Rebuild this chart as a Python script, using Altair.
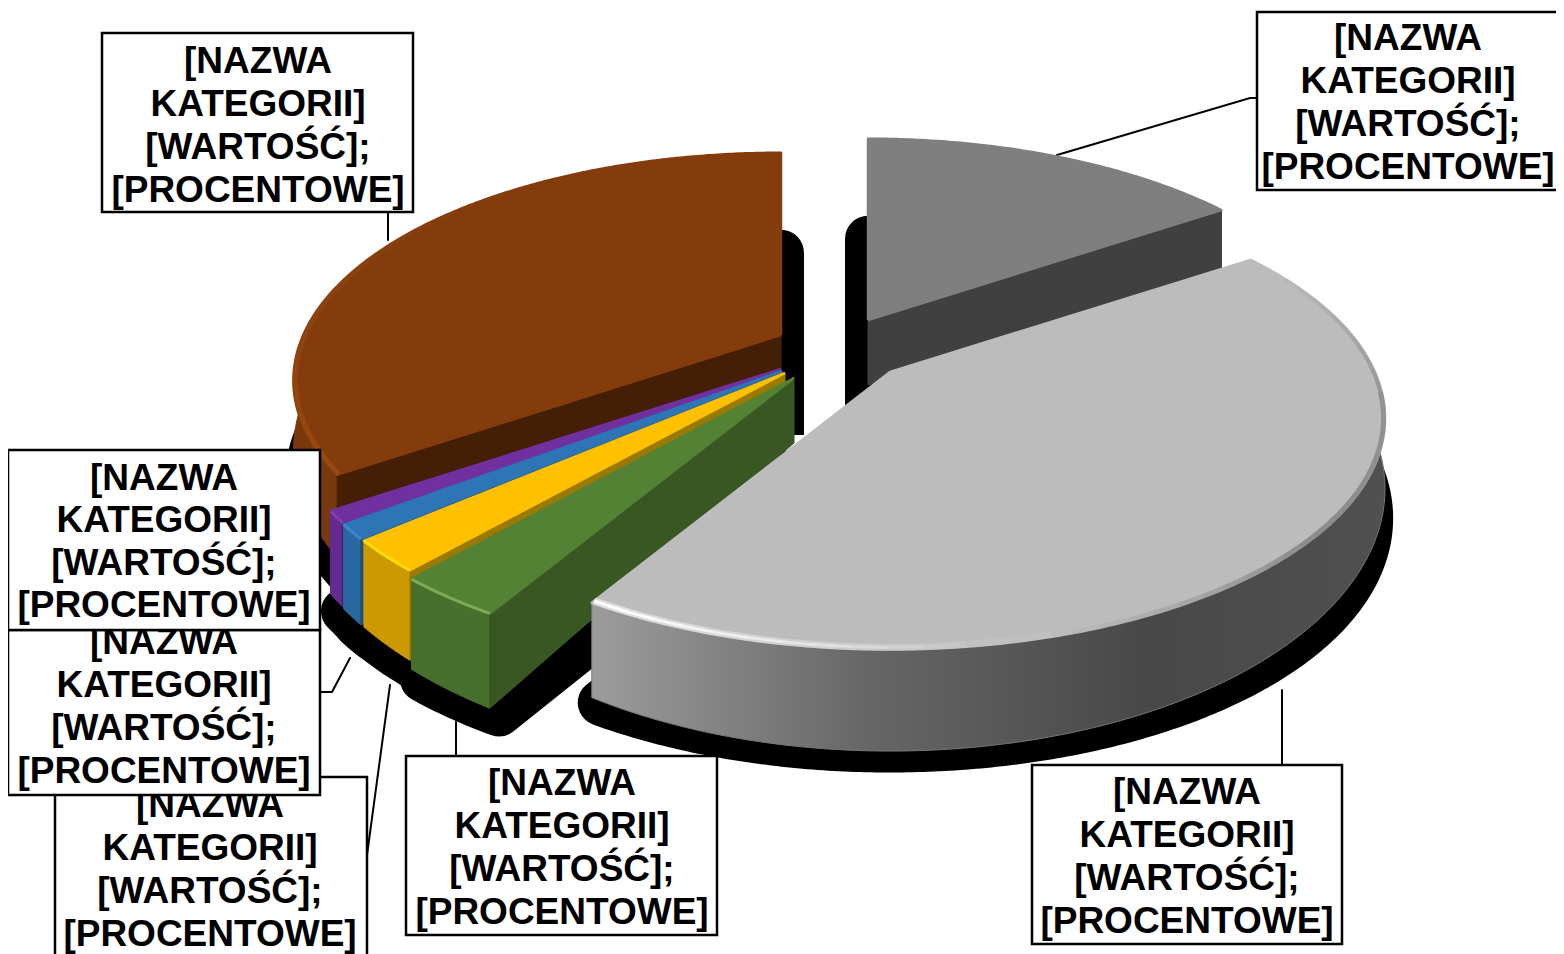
import numpy as np
import pandas as pd
import altair as alt

# share of each slice, clockwise from 12 o'clock (percent)
categories = ["ciemnoszary", "jasnoszary", "zielony", "żółty", "niebieski", "fioletowy", "brązowy"]
values = [15.5, 43.0, 2.9, 2.2, 1.0, 0.8, 34.6]

label_lines = ["[NAZWA", "KATEGORII]", "[WARTOŚĆ];", "[PROCENTOWE]"]

# explosion of each slice: screen position of its apex, and its apparent radius
apex_x = [868, 890, 794, 785, 782, 781, 781]
apex_y = [320, 372, 378, 373, 371, 369, 335]
radius = [0.98, 1.0, 1.02, 1.0, 1.0, 1.0, 0.985]

top_colors = ["#7f7f7f", "#bcbcbc", "#548235", "#ffc000", "#2e75b6", "#7030a0", "#843c0c"]
face_colors = ["#404040", "#bcbcbc", "#385723", "#9a7a00", "#1f4e79", "#3e1a59", "#451e06"]
wall_colors = ["#404040", "#808080", "#46702b", "#cc9a00", "#2a68a2", "#642a90", "#78390c"]

RX, RY, K = 485.0, 222.0, 0.2   # ellipse radii and perspective strength
D0 = 65.0                       # depth of the pie at the apex


def rim(i, th, sx=1.0, sy=1.0):
    """Project rim points (angle th, degrees) of slice i."""
    t = np.radians(th)
    u, v = np.sin(t), -np.cos(t)
    w = 1 - K * v
    return (apex_x[i] + sx * radius[i] * RX * u / w,
            apex_y[i] + sy * radius[i] * RY * v / w, w)


edges = np.cumsum([0] + values) / sum(values) * 360.0


def depth(w):
    return D0 / np.minimum(w, 1.0) ** 2


def poly(xs, ys):
    xs = list(xs) + [xs[0]]
    ys = list(ys) + [ys[0]]
    return pd.DataFrame({"x": xs, "y": ys, "i": range(len(xs))})


X = alt.X("x:Q", axis=None, scale=alt.Scale(domain=[8, 1556], nice=False, zero=False))
Y = alt.Y("y:Q", axis=None, scale=alt.Scale(domain=[954, 8], nice=False, zero=False))


def filled(df, fill, stroke=None, sw=1.0):
    return alt.Chart(df).mark_line(
        fill=fill, stroke=stroke if stroke else (fill if isinstance(fill, str) else "#777777"),
        strokeWidth=sw, strokeJoin="round", interpolate="linear"
    ).encode(x=X, y=Y, order="i:Q")


def stroke_only(df, color, sw, opacity=1.0, cap="butt"):
    return alt.Chart(df).mark_line(
        stroke=color, strokeWidth=sw, strokeCap=cap, opacity=opacity
    ).encode(x=X, y=Y, order="i:Q")


def arc_angles(i):
    return np.linspace(edges[i], edges[i + 1], max(6, int(edges[i + 1] - edges[i]) * 2))


def top_poly(i):
    x, y, _ = rim(i, arc_angles(i))
    return poly([apex_x[i]] + list(x), [apex_y[i]] + list(y))


def wall_poly(i):
    x, y, w = rim(i, arc_angles(i))
    d = depth(w)
    return poly(list(x) + list(x[::-1]), list(y) + list((y + d)[::-1]))


def face_poly(i, th):
    x, y, w = rim(i, np.array([th]))
    d = depth(w)[0]
    ax, ay = apex_x[i], apex_y[i]
    return poly([ax, x[0], x[0], ax], [ay, y[0], y[0] + d, ay + D0])


def shadow_poly(i):
    x, y, _ = rim(i, arc_angles(i), 0.97, 1.0)
    return poly([apex_x[i]] + list(x), [apex_y[i] + 100] + list(y + 100))


def fade(i, lo, hi, color, sw, op_lo, op_hi, inset=0.0, n=12):
    """Rim shading from angle lo to hi whose opacity changes step by step."""
    out = []
    bounds = np.linspace(lo, hi, n + 1)
    ops = np.linspace(op_lo, op_hi, n)
    s = 1.0 - inset
    for a, b, op in zip(bounds[:-1], bounds[1:], ops):
        x, y, _ = rim(i, np.linspace(a, b, 6), s, s)
        out.append(stroke_only(pd.DataFrame({"x": x, "y": y, "i": range(6)}), color, sw, float(op)))
    return out


layers = []

# leader lines
leaders = [
    [(1057, 155), (1250, 98), (1257, 98)],
    [(388, 212), (388, 240)],
    [(1282, 765), (1282, 690)],
    [(456, 756), (456, 722)],
    [(367, 855), (390, 685)],
    [(320, 692), (332, 692), (350, 658)],
]
for pts in leaders:
    df = pd.DataFrame({"x": [p[0] for p in pts], "y": [p[1] for p in pts], "i": range(len(pts))})
    layers.append(stroke_only(df, "#000000", 2, cap="round"))

# hard black shadow
for i in range(7):
    layers.append(filled(shadow_poly(i), "#000000", "#000000", 46))

grad_light = alt.Gradient(
    gradient="linear", x1=0, x2=1, y1=0, y2=0,
    stops=[alt.GradientStop(offset=0, color="#9c9c9c"),
           alt.GradientStop(offset=0.35, color="#666666"),
           alt.GradientStop(offset=0.7, color="#484848"),
           alt.GradientStop(offset=1, color="#505050")])

# dark grey slice, brown slice, then the thin ones from back to front, then light grey
for i in [0, 6, 5, 4, 3, 2, 1]:
    fill = grad_light if i == 1 else wall_colors[i]
    layers.append(filled(wall_poly(i), fill))
    if i == 0:
        layers.append(filled(face_poly(i, edges[1]), face_colors[i]))
    elif i != 1:
        layers.append(filled(face_poly(i, edges[i]), face_colors[i]))
    layers.append(filled(top_poly(i), top_colors[i], top_colors[i], 2.5))
    if i == 6:
        layers += fade(6, edges[6], 320, "#9a4a10", 5, 0.9, 0.0, inset=0.004)

# shading along the rim of the light grey slice
layers += fade(1, 60, 95, "#808080", 4, 0.0, 0.6, inset=0.003)
layers += fade(1, 95, 130, "#777777", 5, 0.6, 0.7, inset=0.003)
layers += fade(1, 130, 165, "#777777", 5, 0.7, 0.0, inset=0.003)
layers += fade(1, 160, 210.6, "#e6e6e6", 7, 0.0, 0.8, inset=0.008)
layers += fade(1, 170, 210.6, "#ffffff", 3, 0.0, 1.0, inset=0.008)
# highlights on the small slices
for i, col in [(2, "#7bab58"), (3, "#ffdc00"), (4, "#3d86c8"), (5, "#8040b0")]:
    x, y, _ = rim(i, arc_angles(i))
    layers.append(stroke_only(pd.DataFrame({"x": x, "y": y, "i": range(len(x))}), col, 3))

# label boxes in paint order (later boxes cover earlier text)
boxes = pd.DataFrame({
    "x": [55, 8, 8, 406, 1032, 102, 1257],
    "x2": [367, 320, 320, 717, 1342, 413, 1570],
    "y": [777, 630, 450, 756, 765, 33, 12],
    "y2": [975, 795, 630, 935, 944, 212, 190],
    "cx": [210, 164, 164, 562, 1187, 258, 1408],
    "ty": [806, 643, 479, 784, 793, 62, 39],
    "step": [43, 43, 42.3, 43, 43, 43, 43],
})
for _, b in boxes.iterrows():
    rect = alt.Chart(pd.DataFrame([b])).mark_rect(
        fill="#ffffff", stroke="#000000", strokeWidth=2.5
    ).encode(x=X, x2="x2:Q", y=Y, y2="y2:Q")
    layers.append(rect)
    tdf = pd.DataFrame({
        "x": [b["cx"]] * 4,
        "y": [b["ty"] + k * b["step"] for k in range(4)],
        "t": label_lines,
    })
    layers.append(alt.Chart(tdf).mark_text(
        font="Liberation Sans", fontWeight="bold", fontSize=37, color="#000000",
        align="center", baseline="middle"
    ).encode(x=X, y=Y, text="t:N"))

chart = alt.layer(*layers).properties(
    width=1548, height=946, padding=0, autosize=alt.AutoSizeParams(type="none"),
    background="#ffffff"
).configure_view(stroke=None)

chart.save("out.html", embed_options={"renderer": "svg", "actions": False})
